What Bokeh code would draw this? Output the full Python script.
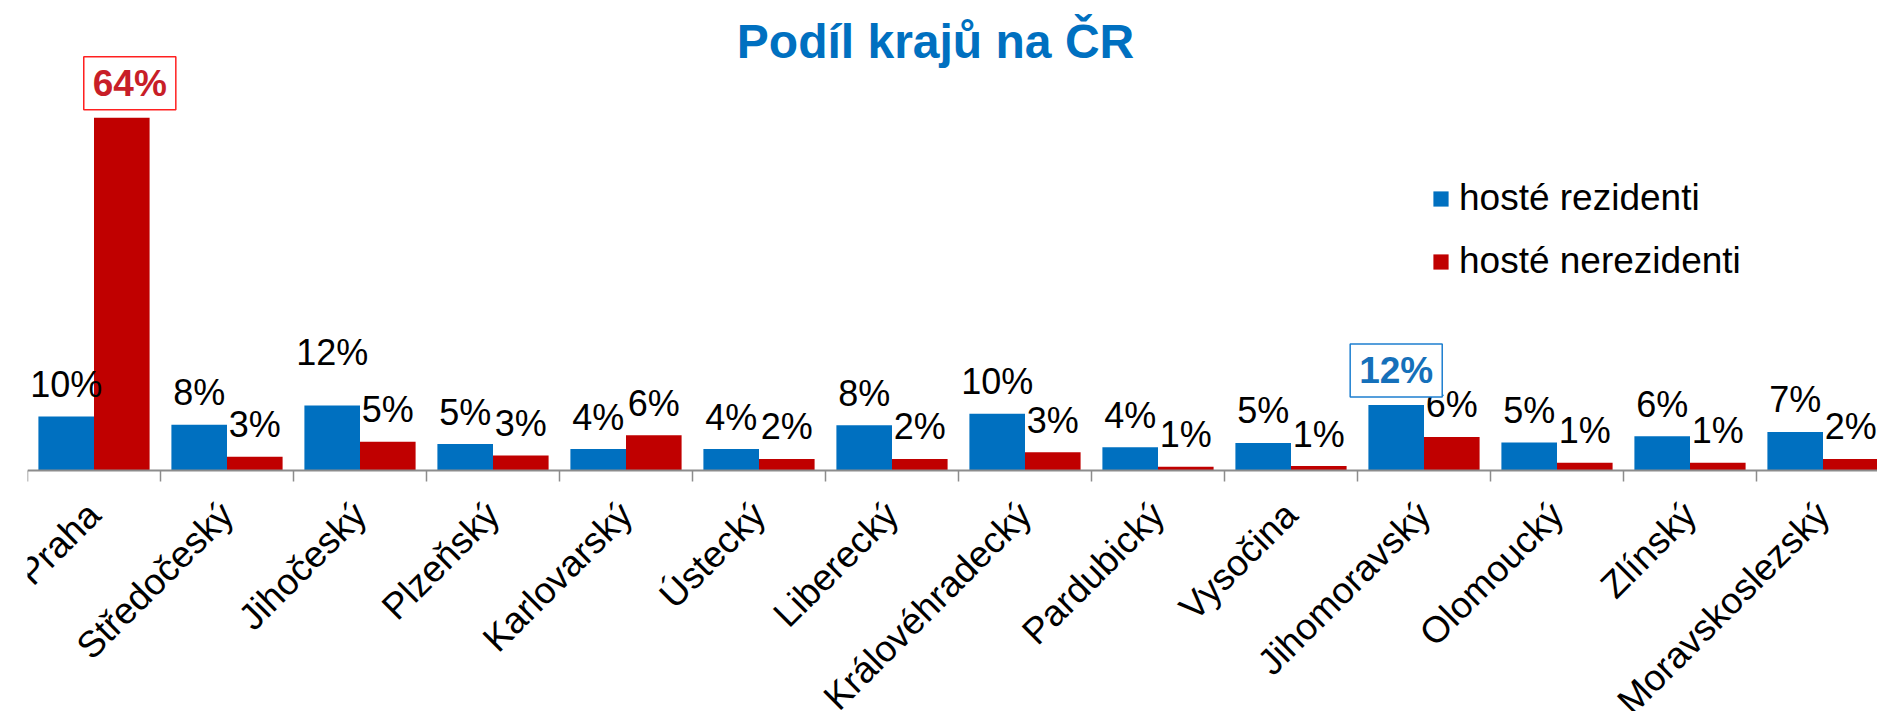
import math
from bokeh.plotting import figure
from bokeh.models import ColumnDataSource, FixedTicker, Legend, LegendItem, Label, Range1d
from bokeh.transform import dodge
from bokeh.core.properties import value
from bokeh.embed import file_html
from bokeh.resources import INLINE

# ---------------- data ----------------
title_text = "Podíl krajů na ČR"
regions = ["Praha", "Středočeský", "Jihočeský", "Plzeňský", "Karlovarský", "Ústecký",
           "Liberecký", "Královéhradecký", "Pardubický", "Vysočina", "Jihomoravský",
           "Olomoucký", "Zlínský", "Moravskoslezský"]
series_names = ["hosté rezidenti", "hosté nerezidenti"]
rezidenti = [9.8, 8.3, 11.8, 4.8, 3.9, 3.9, 8.2, 10.3, 4.2, 5.0, 11.9, 5.1, 6.2, 7.0]
nerezidenti = [64.0, 2.5, 5.2, 2.7, 6.4, 2.1, 2.1, 3.3, 0.7, 0.8, 6.1, 1.4, 1.4, 2.1]
rez_labels = ["10%", "8%", "12%", "5%", "4%", "4%", "8%", "10%", "4%", "5%", "12%", "5%", "6%", "7%"]
nerez_labels = ["64%", "3%", "5%", "3%", "6%", "2%", "2%", "3%", "1%", "1%", "6%", "1%", "1%", "2%"]
highlight_rez = "Jihomoravský"
highlight_nerez = "Praha"

# ---------------- style / layout ----------------
BLUE = "#0070C0"
RED = "#C00000"
FONT = "Liberation Sans"
W, H = 1877, 711
LEFT = 27
PX_CAT = 133.0
PX_PCT = 5.51
ZERO_Y = 470
BW = 0.418

n = len(regions)
hl_r = regions.index(highlight_rez)
hl_n = regions.index(highlight_nerez)

x_range = Range1d(-0.5, -0.5 + (W - LEFT) / PX_CAT)
y_range = Range1d(-(H - ZERO_Y) / PX_PCT, ZERO_Y / PX_PCT)

p = figure(width=W, height=H, x_range=x_range, y_range=y_range,
           output_backend="svg", toolbar_location=None,
           y_axis_location=None, x_axis_location="below",
           min_border_left=LEFT, min_border_right=0, min_border_top=0, min_border_bottom=0,
           outline_line_color=None, background_fill_color="white", border_fill_color="white")
p.xgrid.visible = False
p.ygrid.visible = False

rez_off = [-32] * n
rez_off[2] = -53  # lifted label (Jihočeský) as in the original
src = ColumnDataSource(dict(
    idx=list(range(n)),
    rez=rezidenti,
    nerez=nerezidenti,
    rez_txt=[t if i != hl_r else "" for i, t in enumerate(rez_labels)],
    nerez_txt=[t if i != hl_n else "" for i, t in enumerate(nerez_labels)],
    rez_off=rez_off,
    nerez_off=[-32] * n,
))

rb = p.vbar(x=dodge("idx", -BW / 2), top="rez", width=BW, source=src,
            fill_color=BLUE, line_color=None)
nb = p.vbar(x=dodge("idx", BW / 2), top="nerez", width=BW, source=src,
            fill_color=RED, line_color=None)

lbl_kw = dict(text_font=value(FONT), text_font_size="36px", text_color="black",
              text_align="center", text_baseline="middle")
p.text(x=dodge("idx", -BW / 2), y="rez", text="rez_txt", y_offset="rez_off", source=src, **lbl_kw)
p.text(x=dodge("idx", BW / 2), y="nerez", text="nerez_txt", y_offset="nerez_off", source=src, **lbl_kw)

# highlighted boxed labels
box_pad = dict(left=9, right=9, top=6, bottom=6)
p.add_layout(Label(x=hl_n + BW / 2, y=nerezidenti[hl_n], text=nerez_labels[hl_n],
                   x_offset=8, y_offset=8,
                   text_font=FONT, text_font_size="37px", text_font_style="bold",
                   text_color="#C81E28", text_align="center", text_baseline="bottom",
                   border_line_color="#FF2020", border_line_width=1.5,
                   background_fill_color="white", padding=box_pad))
p.add_layout(Label(x=hl_r - BW / 2, y=rezidenti[hl_r], text=rez_labels[hl_r],
                   x_offset=0, y_offset=8,
                   text_font=FONT, text_font_size="37px", text_font_style="bold",
                   text_color="#1570BA", text_align="center", text_baseline="bottom",
                   border_line_color="#1E7FD0", border_line_width=1.5,
                   background_fill_color="white", padding=box_pad))

# title
p.add_layout(Label(x=908, y=H - 41, x_units="screen", y_units="screen", text=title_text,
                   text_font=FONT, text_font_size="48px", text_font_style="bold",
                   text_color=BLUE, text_align="center", text_baseline="middle"))

# axis
ax = p.xaxis[0]
ax.fixed_location = 0
ax.ticker = FixedTicker(ticks=list(range(n)), minor_ticks=[i - 0.5 for i in range(n + 1)])
ax.major_label_overrides = {i: name for i, name in enumerate(regions)}
ax.major_tick_line_color = None
ax.major_tick_out = 0
ax.major_tick_in = 0
ax.minor_tick_out = 11
ax.minor_tick_in = 0
ax.minor_tick_line_color = "#8C8C8C"
ax.minor_tick_line_width = 1.5
ax.axis_line_color = "#8C8C8C"
ax.axis_line_width = 2
ax.major_label_orientation = math.pi / 4
ax.major_label_text_font = FONT
ax.major_label_text_font_size = "37px"
ax.major_label_text_color = "black"
ax.major_label_standoff = 27

# legend
legend = Legend(items=[LegendItem(label=series_names[0], renderers=[rb]),
                       LegendItem(label=series_names[1], renderers=[nb])],
                location=(1404, 429), orientation="vertical",
                label_text_font=FONT, label_text_font_size="37px", label_text_color="black",
                glyph_width=19, glyph_height=19, label_standoff=9, spacing=21,
                padding=0, margin=0, border_line_color=None, background_fill_alpha=0)
p.add_layout(legend)

open("out.html", "w").write(file_html(p, INLINE))
